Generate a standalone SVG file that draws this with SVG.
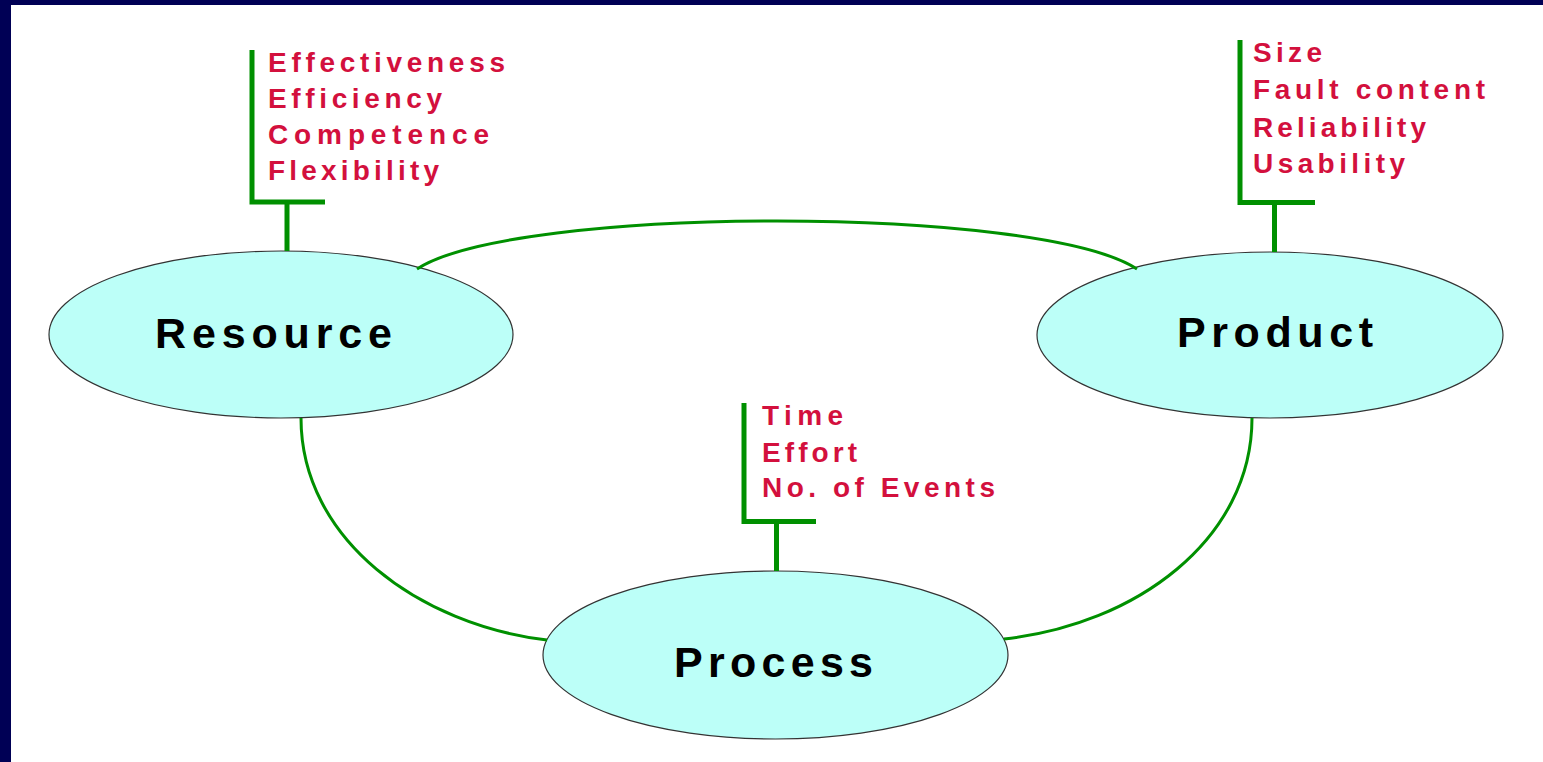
<svg xmlns="http://www.w3.org/2000/svg" width="1543" height="762" viewBox="0 0 1543 762">
  <style>
    .node { fill: #bcfff8; stroke: #333333; stroke-width: 1.2; }
    .label { font-family: "Liberation Sans", Arial, sans-serif; font-weight: bold; font-size: 43px; fill: #000000; }
    .attr { font-family: "Liberation Sans", Arial, sans-serif; font-weight: bold; font-size: 28px; fill: #d3103d; }
    .conn { fill: none; stroke: #009000; stroke-width: 3; }
    .brk { fill: none; stroke: #009000; stroke-width: 5; }
  </style>
  <rect x="0" y="0" width="1543" height="762" fill="#ffffff"/>
  <rect x="0" y="0" width="1543" height="5" fill="#000055"/>
  <rect x="0" y="0" width="11" height="762" fill="#000055"/>

  <g id="resource">
    <ellipse class="node" cx="281" cy="334.5" rx="232" ry="83.5"/>
    <text class="label" x="155" y="348" textLength="237">Resource</text>
  </g>
  <g id="product">
    <ellipse class="node" cx="1270" cy="335" rx="233" ry="83"/>
    <text class="label" x="1177" y="347" textLength="196">Product</text>
  </g>
  <g id="process">
    <ellipse class="node" cx="775.5" cy="655" rx="232.5" ry="84"/>
    <text class="label" x="674" y="677" textLength="199">Process</text>
  </g>

  <g id="resource-attributes">
    <path class="brk" d="M252,50 V202 H325 M287,202 V251"/>
    <text class="attr" x="268" y="72" textLength="237">Effectiveness</text>
    <text class="attr" x="268" y="108" textLength="174">Efficiency</text>
    <text class="attr" x="268" y="144" textLength="221">Competence</text>
    <text class="attr" x="268" y="180" textLength="171">Flexibility</text>
  </g>
  <g id="product-attributes">
    <path class="brk" d="M1240,40 V202.5 H1315 M1274.5,202.5 V252"/>
    <text class="attr" x="1253" y="62" textLength="69">Size</text>
    <text class="attr" x="1253" y="99" textLength="232">Fault content</text>
    <text class="attr" x="1253" y="137" textLength="173">Reliability</text>
    <text class="attr" x="1253" y="173" textLength="152">Usability</text>
  </g>
  <g id="process-attributes">
    <path class="brk" d="M744,403 V521.5 H816 M776.5,521.5 V571"/>
    <text class="attr" x="762" y="425" textLength="81">Time</text>
    <text class="attr" x="762" y="462" textLength="95">Effort</text>
    <text class="attr" x="762" y="497" textLength="233">No. of Events</text>
  </g>

  <g id="connectors">
    <path class="conn" d="M417,269 C515,205 1039,205 1137,269"/>
    <path class="conn" d="M301,418 C301,540 420,625 547,640"/>
    <path class="conn" d="M1252,418 C1252,540 1135,625 1004,639"/>
  </g>
</svg>
